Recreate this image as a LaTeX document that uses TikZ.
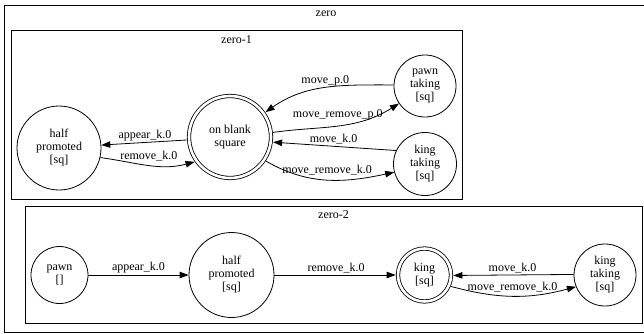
\documentclass[tikz,border=0pt]{standalone}
\usepackage{fontspec}
\setmainfont{Liberation Serif}
\usetikzlibrary{arrows.meta}

\begin{document}
\begin{tikzpicture}[x=1pt,y=-1pt,line width=0.8pt,
  font=\fontsize{12}{13}\selectfont,
  state/.style={circle,draw,align=center,inner sep=0pt},
  accept/.style={state,double,double distance=2.6pt},
  edge/.style={-{Triangle[length=9pt,width=6.5pt]}},
  lbl/.style={inner sep=1.5pt}]
  \useasboundingbox (0,0) rectangle (644,333);

  % clusters
  \draw (4,5) rectangle (648,332);
  \node (zero) at (326,14) {zero};
  \draw (11,30) rectangle (462,199);
  \node (zeroa) at (236.5,40) {zero-1};
  \draw (25,206) rectangle (642.5,323);
  \node (zerob) at (333.5,215) {zero-2};

  % states of zero-1
  \node[state,minimum size=84pt] (hpa) at (59,148) {half\\promoted\\{[sq]}};
  \node[accept,minimum size=82pt] (blank) at (230,137) {on blank\\square};
  \node[state,minimum size=62pt] (pawntk) at (425,86) {pawn\\taking\\{[sq]}};
  \node[state,minimum size=63pt] (kingtka) at (425,164) {king\\taking\\{[sq]}};

  % states of zero-2
  \node[state,minimum size=57pt] (pawn) at (59.5,275) {pawn\\{[]}};
  \node[state,minimum size=85pt] (hpb) at (231.5,275) {half\\promoted\\{[sq]}};
  \node[accept,minimum size=53pt] (king) at (424.5,275) {king\\{[sq]}};
  \node[state,minimum size=62pt] (kingtkb) at (605,275) {king\\taking\\{[sq]}};

  % transitions zero-1
  \draw[edge,shorten <=2pt] (blank.184) -- node[lbl,above] {appear\_k.0} (hpa.4);
  \draw[edge,shorten >=2pt] (hpa.-13) to[out=-8,in=195] node[lbl,above=2pt] {remove\_k.0} (blank.216);
  \draw[edge,shorten >=2pt] (pawntk.178) to[out=180,in=35] node[lbl,above] {move\_p.0} (blank.35);
  \draw[edge,shorten <=2pt] (blank.6) to[out=8,in=212] node[lbl,above=4pt] {move\_remove\_p.0} (pawntk.214);
  \draw[edge,shorten >=2pt] (kingtka.155) -- node[lbl,above] {move\_k.0} (blank.-7);
  \draw[edge,shorten <=2pt] (blank.-34) to[out=-30,in=192] node[lbl,above=3pt] {move\_remove\_k.0} (kingtka.195);

  % transitions zero-2
  \draw[edge] (pawn) -- node[lbl,above] {appear\_k.0} (hpb);
  \draw[edge,shorten >=2pt] (hpb) -- node[lbl,above] {remove\_k.0} (king);
  \draw[edge,shorten >=2pt] (kingtkb.179) -- node[lbl,above] {move\_k.0} (king.-1);
  \draw[edge,shorten <=2pt] (king.-24) to[out=-15,in=195] node[lbl,above=2pt] {move\_remove\_k.0} (kingtkb.202);
\end{tikzpicture}
\end{document}
